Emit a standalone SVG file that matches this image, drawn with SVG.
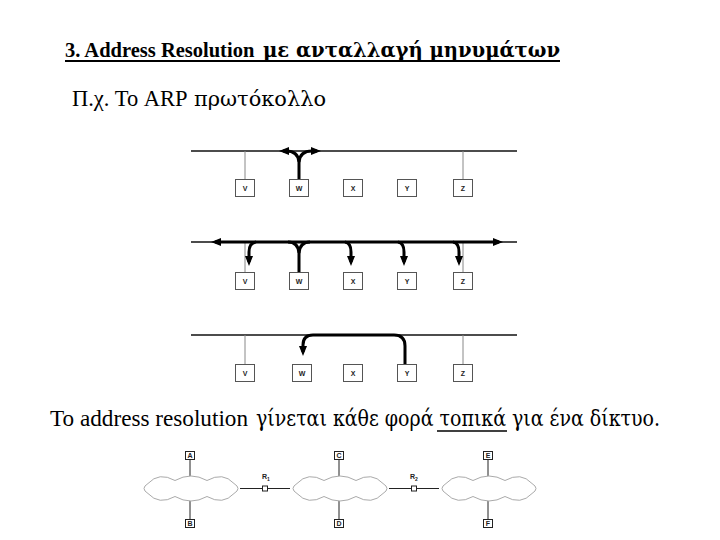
<svg xmlns="http://www.w3.org/2000/svg" width="720" height="540" viewBox="0 0 720 540">
<style>
.t{font-family:"Liberation Serif","DejaVu Serif","Times New Roman",serif;fill:#000}
.g{font-family:"DejaVu Serif","Liberation Serif",serif}
.bus{stroke:#111;stroke-width:1.6;fill:none}
.drop{stroke:#888;stroke-width:1;fill:none}
.thick{stroke:#000;stroke-width:3;fill:none;stroke-linecap:butt}
.box{fill:#fff;stroke:#555;stroke-width:1}
.lb{font-family:"Liberation Sans",Arial,sans-serif;font-size:7px;font-weight:bold;fill:#222;text-anchor:middle}
.cloud{fill:#fff;stroke:#aaa;stroke-width:1}
.ln{stroke:#222;stroke-width:1;fill:none}
.sb{fill:#fff;stroke:#222;stroke-width:1}
</style>
<defs>
<marker id="ah" viewBox="0 0 10 8" refX="6" refY="4" markerWidth="11" markerHeight="8" markerUnits="userSpaceOnUse" orient="auto-start-reverse">
<path d="M0,0 L10,4 L0,8 Z" fill="#000"/>
</marker>
<path id="cl" class="cloud" d="M6,-5 Q17,-17 33,-8 Q49,-17 65,-8 Q81,-17 92,-5 Q100,0 92,5 Q81,17 65,8 Q49,17 33,8 Q17,17 6,5 Q-2,0 6,-5 Z"/>
</defs>

<g id="title">
<text class="t" x="65" y="57" font-size="20.5" font-weight="bold">3. Address Resolution <tspan class="g" x="263" textLength="297" lengthAdjust="spacingAndGlyphs">με ανταλλαγή μηνυμάτων</tspan></text>
<line x1="65" y1="61" x2="560" y2="61" stroke="#000" stroke-width="2"/>
</g>
<g id="subtitle">
<text class="t" x="72" y="106" font-size="22.5">Π.χ. Το ARP <tspan class="g" x="194" font-size="21" textLength="132" lengthAdjust="spacingAndGlyphs">πρωτόκολλο</tspan></text>
</g>

<g id="panel1">
<line class="bus" x1="191" y1="151" x2="517" y2="151"/>
<line class="drop" x1="245" y1="151" x2="245" y2="179"/>
<line class="drop" x1="463" y1="151" x2="463" y2="179"/>
<g id="p1-V"><rect class="box" x="235.5" y="179.5" width="19" height="17"/><text class="lb" x="245" y="190.5">V</text></g>
<g id="p1-W"><rect class="box" x="289.5" y="179.5" width="19" height="17"/><text class="lb" x="299" y="190.5">W</text></g>
<g id="p1-X"><rect class="box" x="343.5" y="179.5" width="19" height="17"/><text class="lb" x="353" y="190.5">X</text></g>
<g id="p1-Y"><rect class="box" x="397.5" y="179.5" width="19" height="17"/><text class="lb" x="407" y="190.5">Y</text></g>
<g id="p1-Z"><rect class="box" x="453.5" y="179.5" width="19" height="17"/><text class="lb" x="463" y="190.5">Z</text></g>
</g>

<g id="panel2">
<line class="bus" x1="191" y1="242" x2="517" y2="242"/>
<line class="drop" x1="245" y1="242" x2="245" y2="272"/>
<line class="drop" x1="463" y1="242" x2="463" y2="272"/>
<g id="p2-V"><rect class="box" x="235.5" y="272.5" width="19" height="17"/><text class="lb" x="245" y="283.5">V</text></g>
<g id="p2-W"><rect class="box" x="289.5" y="272.5" width="19" height="17"/><text class="lb" x="299" y="283.5">W</text></g>
<g id="p2-X"><rect class="box" x="343.5" y="272.5" width="19" height="17"/><text class="lb" x="353" y="283.5">X</text></g>
<g id="p2-Y"><rect class="box" x="397.5" y="272.5" width="19" height="17"/><text class="lb" x="407" y="283.5">Y</text></g>
<g id="p2-Z"><rect class="box" x="453.5" y="272.5" width="19" height="17"/><text class="lb" x="463" y="283.5">Z</text></g>
</g>

<g id="panel3">
<line class="bus" x1="191" y1="335" x2="517" y2="335" stroke="#333" stroke-width="2"/>
<line class="drop" x1="245" y1="335" x2="245" y2="364"/>
<line class="drop" x1="463" y1="335" x2="463" y2="364"/>
<g id="p3-V"><rect class="box" x="235.5" y="364.5" width="19" height="17"/><text class="lb" x="245" y="375.5">V</text></g>
<g id="p3-W"><rect class="box" x="292.5" y="364.5" width="19" height="17"/><text class="lb" x="302" y="375.5">W</text></g>
<g id="p3-X"><rect class="box" x="343.5" y="364.5" width="19" height="17"/><text class="lb" x="353" y="375.5">X</text></g>
<g id="p3-Y"><rect class="box" x="397.5" y="364.5" width="19" height="17"/><text class="lb" x="407" y="375.5">Y</text></g>
<g id="p3-Z"><rect class="box" x="453.5" y="364.5" width="19" height="17"/><text class="lb" x="463" y="375.5">Z</text></g>
</g>

<g id="connectors">
<path class="thick" d="M299,179 L299,162 Q298,151 286,151 L283,151" marker-end="url(#ah)"/>
<path class="thick" d="M299,162 Q300,151 312,151 L317,151" marker-end="url(#ah)"/>
<path class="thick" d="M215,242 L499,242" marker-start="url(#ah)" marker-end="url(#ah)"/>
<path class="thick" d="M299,272 L299,253 Q298,242 288,242"/>
<path class="thick" d="M299,253 Q300,242 310,242"/>
<path class="thick" d="M256,242 Q249,243 249,252 L249,262" marker-end="url(#ah)"/>
<path class="thick" d="M345,242 Q351,243 351,252 L351,262" marker-end="url(#ah)"/>
<path class="thick" d="M398,242 Q404,243 404,252 L404,262" marker-end="url(#ah)"/>
<path class="thick" d="M453,242 Q459,243 459,252 L459,262" marker-end="url(#ah)"/>
<path class="thick" d="M405,364 L405,346 Q405,335 394,335 L313,335 Q303,335 303,345 L303,352" marker-end="url(#ah)"/>
<line class="ln" x1="190" y1="459" x2="190" y2="477"/>
<line class="ln" x1="190" y1="500" x2="190" y2="519"/>
<line class="ln" x1="339" y1="459" x2="339" y2="477"/>
<line class="ln" x1="339" y1="500" x2="339" y2="519"/>
<line class="ln" x1="488" y1="459" x2="488" y2="477"/>
<line class="ln" x1="488" y1="500" x2="488" y2="519"/>
<line class="ln" x1="240" y1="488.5" x2="290" y2="488.5"/>
<line class="ln" x1="389" y1="488.5" x2="439" y2="488.5"/>
</g>

<g id="sentence">
<text class="t" x="50" y="426" font-size="23.2">Το address resolution <tspan class="g" x="256" font-size="22" textLength="404" lengthAdjust="spacingAndGlyphs">γίνεται κάθε φορά τοπικά για ένα δίκτυο.</tspan></text>
<line x1="437" y1="431" x2="507" y2="431" stroke="#000" stroke-width="1.3"/>
</g>

<g id="cloud1"><use href="#cl" x="142" y="488.5"/></g>
<g id="cloud2"><use href="#cl" x="291" y="488.5"/></g>
<g id="cloud3"><use href="#cl" x="440" y="488.5"/></g>
<g id="R1"><rect class="sb" x="262.5" y="486" width="5" height="5"/><text class="lb" x="262" y="479" style="text-anchor:start">R<tspan font-size="5" dy="1.5">1</tspan></text></g>
<g id="R2"><rect class="sb" x="411.5" y="486" width="5" height="5"/><text class="lb" x="410" y="479" style="text-anchor:start">R<tspan font-size="5" dy="1.5">2</tspan></text></g>
<g id="A"><rect class="sb" x="185.5" y="451.5" width="9" height="8"/><text class="lb" x="190" y="458">A</text></g>
<g id="B"><rect class="sb" x="185.5" y="519.5" width="9" height="8"/><text class="lb" x="190" y="526">B</text></g>
<g id="C"><rect class="sb" x="334.5" y="451.5" width="9" height="8"/><text class="lb" x="339" y="458">C</text></g>
<g id="D"><rect class="sb" x="334.5" y="519.5" width="9" height="8"/><text class="lb" x="339" y="526">D</text></g>
<g id="E"><rect class="sb" x="483.5" y="451.5" width="9" height="8"/><text class="lb" x="488" y="458">E</text></g>
<g id="F"><rect class="sb" x="483.5" y="519.5" width="9" height="8"/><text class="lb" x="488" y="526">F</text></g>
</svg>
